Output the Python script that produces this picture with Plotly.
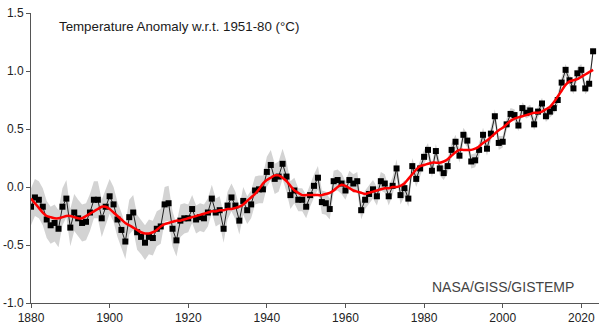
import plotly.graph_objects as go

years = list(range(1880, 2024))

anomaly = [
    -0.17, -0.09, -0.11, -0.17, -0.28, -0.33, -0.31, -0.36, -0.17, -0.10,
    -0.35, -0.22, -0.27, -0.31, -0.30, -0.22, -0.11, -0.11, -0.27, -0.17,
    -0.08, -0.15, -0.28, -0.37, -0.47, -0.26, -0.22, -0.39, -0.43, -0.48,
    -0.43, -0.44, -0.36, -0.34, -0.15, -0.14, -0.36, -0.46, -0.29, -0.27,
    -0.27, -0.19, -0.28, -0.26, -0.27, -0.22, -0.10, -0.22, -0.20, -0.36,
    -0.16, -0.09, -0.16, -0.29, -0.12, -0.20, -0.15, -0.03, -0.02, -0.02,
    0.13, 0.19, 0.07, 0.09, 0.20, 0.09, -0.07, -0.03, -0.11, -0.11,
    -0.17, -0.07, 0.01, 0.08, -0.13, -0.14, -0.19, 0.05, 0.06, 0.03,
    -0.03, 0.06, 0.03, 0.05, -0.20, -0.11, -0.06, -0.02, -0.08, 0.05,
    0.03, -0.08, 0.01, 0.16, -0.07, -0.01, -0.10, 0.18, 0.07, 0.16,
    0.26, 0.32, 0.14, 0.31, 0.16, 0.12, 0.18, 0.32, 0.39, 0.27,
    0.45, 0.40, 0.22, 0.23, 0.32, 0.45, 0.33, 0.46, 0.61, 0.38,
    0.39, 0.54, 0.63, 0.62, 0.53, 0.68, 0.64, 0.66, 0.54, 0.65,
    0.72, 0.61, 0.65, 0.68, 0.75, 0.90, 1.01, 0.92, 0.85, 0.98,
    1.01, 0.85, 0.89, 1.17,
]

lowess = [
    -0.10, -0.14, -0.18, -0.22, -0.25, -0.26, -0.27, -0.27, -0.26, -0.25,
    -0.25, -0.26, -0.27, -0.27, -0.25, -0.23, -0.21, -0.19, -0.17, -0.17,
    -0.19, -0.22, -0.25, -0.28, -0.31, -0.33, -0.35, -0.37, -0.39, -0.40,
    -0.40, -0.39, -0.37, -0.34, -0.32, -0.31, -0.30, -0.29, -0.29, -0.28,
    -0.27, -0.26, -0.25, -0.24, -0.23, -0.22, -0.21, -0.21, -0.20, -0.20,
    -0.19, -0.19, -0.18, -0.17, -0.15, -0.12, -0.09, -0.06, -0.02, 0.03,
    0.06, 0.08, 0.10, 0.10, 0.08, 0.05, 0.01, -0.03, -0.05, -0.07,
    -0.07, -0.07, -0.07, -0.07, -0.07, -0.06, -0.05, -0.03, 0.00, 0.02,
    0.01, -0.01, -0.03, -0.04, -0.05, -0.06, -0.05, -0.04, -0.03, -0.02,
    -0.01, -0.01, 0.00, 0.00, 0.01, 0.03, 0.07, 0.11, 0.15, 0.18,
    0.19, 0.20, 0.21, 0.21, 0.21, 0.22, 0.24, 0.27, 0.30, 0.32,
    0.32, 0.32, 0.32, 0.33, 0.35, 0.38, 0.40, 0.43, 0.46, 0.49,
    0.51, 0.54, 0.57, 0.59, 0.60, 0.61, 0.62, 0.63, 0.64, 0.64,
    0.65, 0.67, 0.69, 0.73, 0.78, 0.83, 0.88, 0.91, 0.92, 0.93,
    0.95, 0.97, 0.99, 1.01,
]

uncertainty = [
    0.16, 0.16, 0.16, 0.16, 0.16, 0.16, 0.16, 0.16, 0.16, 0.16,
    0.16, 0.16, 0.16, 0.16, 0.16, 0.16, 0.16, 0.16, 0.16, 0.16,
    0.15, 0.15, 0.15, 0.15, 0.15, 0.15, 0.15, 0.15, 0.15, 0.15,
    0.15, 0.15, 0.15, 0.15, 0.15, 0.15, 0.15, 0.14, 0.14, 0.13,
    0.12, 0.12, 0.12, 0.12, 0.12, 0.12, 0.12, 0.12, 0.12, 0.12,
    0.12, 0.12, 0.12, 0.12, 0.12, 0.12, 0.12, 0.12, 0.12, 0.12,
    0.13, 0.13, 0.13, 0.13, 0.13, 0.13, 0.12, 0.11, 0.10, 0.10,
    0.10, 0.10, 0.10, 0.10, 0.10, 0.10, 0.09, 0.09, 0.09, 0.09,
    0.08, 0.08, 0.08, 0.08, 0.08, 0.08, 0.08, 0.08, 0.08, 0.08,
    0.08, 0.08, 0.08, 0.08, 0.08, 0.07, 0.07, 0.07, 0.07, 0.07,
    0.06, 0.06, 0.06, 0.06, 0.06, 0.06, 0.06, 0.06, 0.06, 0.06,
    0.06, 0.06, 0.06, 0.06, 0.06, 0.06, 0.06, 0.06, 0.06, 0.06,
    0.05, 0.05, 0.05, 0.05, 0.05, 0.05, 0.05, 0.05, 0.05, 0.05,
    0.05, 0.05, 0.05, 0.05, 0.05, 0.05, 0.05, 0.05, 0.05, 0.05,
    0.05, 0.05, 0.05, 0.05,
]

x_ticks = [1880, 1900, 1920, 1940, 1960, 1980, 2000, 2020]
y_ticks = [-1.0, -0.5, 0.0, 0.5, 1.0, 1.5]
y_tick_labels = ["-1.0", "-0.5", "0.0", "0.5", "1.0", "1.5"]

title_text = "Temperature Anomaly w.r.t. 1951-80 (°C)"
source_text = "NASA/GISS/GISTEMP"

upper = [a + u for a, u in zip(anomaly, uncertainty)]
lower = [a - u for a, u in zip(anomaly, uncertainty)]

fig = go.Figure()

fig.add_trace(go.Scatter(
    x=years + years[::-1],
    y=upper + lower[::-1],
    fill="toself",
    fillcolor="rgb(211,211,211)",
    line=dict(width=0),
    mode="lines",
    hoverinfo="skip",
    showlegend=False,
))

fig.add_trace(go.Scatter(
    x=years, y=anomaly,
    mode="lines+markers",
    line=dict(color="#222222", width=1),
    marker=dict(symbol="square", size=6, color="black"),
    showlegend=False,
))

fig.add_trace(go.Scatter(
    x=years, y=lowess,
    mode="lines",
    line=dict(color="#ff0000", width=2.5, shape="spline", smoothing=0.6),
    showlegend=False,
))

font_family = "Liberation Sans, Arial, sans-serif"

fig.update_layout(
    width=599, height=325,
    margin=dict(l=31, r=0, t=13, b=22, autoexpand=False),
    paper_bgcolor="white",
    plot_bgcolor="white",
    font=dict(family=font_family, size=12, color="#222222"),
    xaxis=dict(
        range=[1880, 2024.5],
        tickvals=x_ticks,
        ticktext=[str(v) for v in x_ticks],
        showgrid=False, zeroline=False,
        showline=True, linecolor="#555555", linewidth=1,
        ticks="outside", ticklen=4, tickcolor="#555555",
        tickfont=dict(size=12, color="#222222"),
        automargin=False,
    ),
    yaxis=dict(
        range=[-1.0, 1.5],
        tickvals=y_ticks,
        ticktext=y_tick_labels,
        showgrid=False, zeroline=False,
        showline=True, linecolor="#555555", linewidth=1,
        ticks="outside", ticklen=4, tickcolor="#555555",
        tickfont=dict(size=12, color="#222222"),
        automargin=False,
    ),
    annotations=[
        dict(text=title_text, xref="paper", yref="paper",
             x=0.0458, y=0.952, xanchor="left", yanchor="middle",
             showarrow=False, font=dict(size=13.3, color="#1a1a1a", family=font_family)),
        dict(text=source_text, xref="paper", yref="paper",
             x=0.9595, y=0.055, xanchor="right", yanchor="middle",
             showarrow=False, font=dict(size=14, color="#444444", family=font_family)),
    ],
)

fig.write_html(
    "out.html",
    config={"displayModeBar": False},
    post_script="document.body.style.margin='0';document.body.style.overflow='hidden';",
)
